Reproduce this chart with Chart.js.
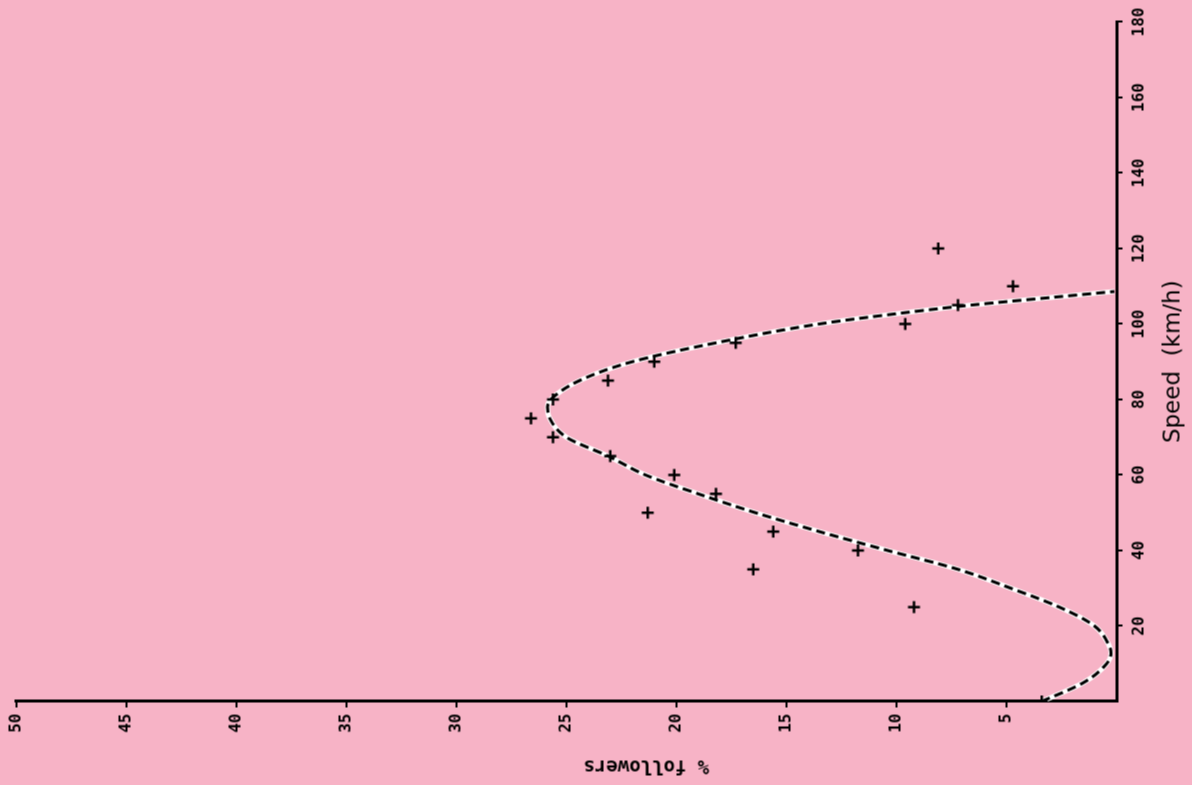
<!DOCTYPE html>
<html>
<head>
<meta charset="utf-8">
<script src="https://cdn.jsdelivr.net/npm/chart.js@4.4.1/dist/chart.umd.min.js"></script>
<style>
  html, body { margin: 0; padding: 0; width: 1192px; height: 785px; overflow: hidden; background: #F7B3C6; }
  #wrap { position: absolute; width: 785px; height: 1192px; left: 203.5px; top: -203.5px; transform: rotate(-90deg); transform-origin: 50% 50%; }
</style>
</head>
<body>
<div id="wrap"><canvas id="c"></canvas></div>
<script>
// Observed data (speed in km/h, % followers)
const speedObs     = [0, 25, 35, 40, 45, 50, 55, 60, 65, 70, 75, 80, 85, 90, 95, 100, 105, 110, 120];
const followersObs = [3.4, 9.2, 16.5, 11.75, 15.6, 21.3, 18.2, 20.1, 23.0, 25.6, 26.6, 25.6, 23.1, 21.0, 17.3, 9.6, 7.2, 4.7, 8.1];

// Fitted curve
const curveSpeed     = [0, 5, 10, 13, 15, 20, 25, 30, 35, 40, 45, 50, 55, 60, 65, 70, 75, 78, 80, 85, 90, 95, 100, 102.5, 105, 107, 108.6];
const curveFollowers = [3.4, 1.5, 0.45, 0.25, 0.35, 1.0, 2.6, 4.8, 7.2, 10.4, 13.5, 16.4, 19.0, 21.4, 23.1, 25.0, 25.75, 25.85, 25.7, 24.4, 22.0, 18.2, 13.5, 10.3, 6.6, 3.0, 0.1];

// Axis settings
const speedTicks = [0, 20, 40, 60, 80, 100, 120, 140, 160, 180];
const followerTicks = [0, 5, 10, 15, 20, 25, 30, 35, 40, 45, 50];
const xTitle = 'Speed  (km/h)';
const yTitle = '% followers';

const obsPoints = speedObs.map((s, i) => ({ x: s, y: followersObs[i] }));
const curvePoints = curveSpeed.map((s, i) => ({ x: s, y: curveFollowers[i] }));

const tickFont = { family: 'DejaVu Sans Mono', size: 16, weight: 'bold' };
const gridOpts = {
  display: true,
  drawOnChartArea: false,
  drawTicks: true,
  tickLength: 6,
  lineWidth: 2,
  color: ctx => (ctx.tick && ctx.tick.value === 0) ? 'rgba(0,0,0,0)' : '#000'
};

new Chart(document.getElementById('c'), {
  type: 'scatter',
  data: {
    datasets: [
      {
        type: 'line',
        data: curvePoints,
        borderColor: '#ffffff',
        borderWidth: 5,
        pointRadius: 0,
        cubicInterpolationMode: 'monotone',
        fill: false,
        order: 3
      },
      {
        type: 'line',
        data: curvePoints,
        borderColor: '#000000',
        borderWidth: 3,
        borderDash: [9, 5],
        pointRadius: 0,
        cubicInterpolationMode: 'monotone',
        fill: false,
        order: 2
      },
      {
        type: 'scatter',
        data: obsPoints,
        pointStyle: 'cross',
        pointRadius: 6,
        pointBorderWidth: 2.5,
        borderColor: '#000',
        backgroundColor: '#000',
        order: 1
      }
    ]
  },
  options: {
    responsive: true,
    maintainAspectRatio: false,
    animation: false,
    layout: { padding: { top: 13, right: 21, left: 0, bottom: 0 } },
    plugins: { legend: { display: false }, tooltip: { enabled: false } },
    scales: {
      x: {
        type: 'linear',
        position: 'bottom',
        min: speedTicks[0],
        max: speedTicks[speedTicks.length - 1],
        afterBuildTicks: s => { s.ticks = speedTicks.map(v => ({ value: v })); },
        afterFit: s => { s.height = 76; },
        ticks: {
          color: '#000',
          font: tickFont,
          padding: 7,
          maxRotation: 0,
          autoSkip: false,
          callback: v => v === 0 ? '' : String(v)
        },
        grid: gridOpts,
        border: { display: true, color: '#000', width: 3 },
        title: {
          display: true,
          text: xTitle,
          color: '#000',
          font: { family: 'DejaVu Sans', size: 23 },
          padding: { top: 0, bottom: 5 }
        }
      },
      y: {
        type: 'linear',
        position: 'left',
        min: followerTicks[0],
        max: followerTicks[followerTicks.length - 1],
        afterBuildTicks: s => { s.ticks = followerTicks.map(v => ({ value: v })); },
        afterFit: s => { s.width = 84; },
        ticks: {
          color: '#000',
          font: tickFont,
          padding: 6,
          autoSkip: false,
          callback: v => v === 0 ? '' : String(v)
        },
        grid: gridOpts,
        border: { display: true, color: '#000', width: 3 },
        title: {
          display: true,
          text: yTitle + '              ',
          color: '#000',
          font: { family: 'DejaVu Sans Mono', size: 19, weight: 'bold' },
          padding: { top: 9, bottom: 0 }
        }
      }
    }
  }
});
</script>
</body>
</html>
